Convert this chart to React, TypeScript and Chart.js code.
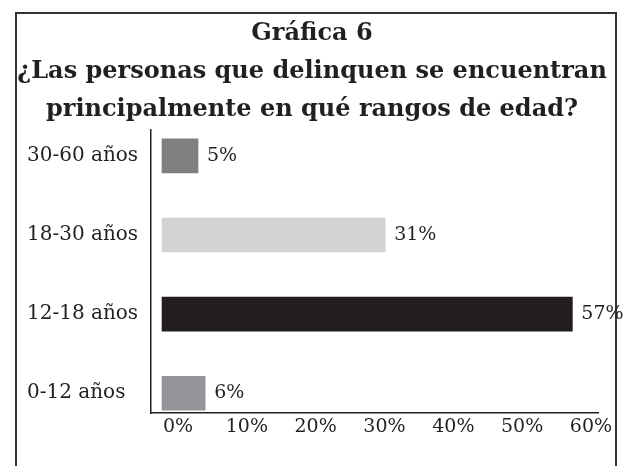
import React, { useEffect, useRef } from "react";
import { Chart, registerables } from "chart.js";

Chart.register(...registerables);

const categories = ["30-60 años", "18-30 años", "12-18 años", "0-12 años"];
const values = [5, 31, 57, 6];
const barColors = ["#808083", "#d1d2d4", "#231f20", "#939598"];
const tickValues = [0, 10, 20, 30, 40, 50, 60];
const titleLines = [
  "Gráfica 6",
  "¿Las personas que delinquen se encuentran",
  "principalmente en qué rangos de edad?",
];

const FONT = "'DejaVu Serif', serif";
const INK = "#231f20";

const valueLabels = {
  id: "valueLabels",
  afterDatasetsDraw(chart: any) {
    const ctx = chart.ctx;
    const meta = chart.getDatasetMeta(0);
    ctx.save();
    ctx.font = `19px ${FONT}`;
    ctx.fillStyle = INK;
    ctx.textAlign = "left";
    ctx.textBaseline = "middle";
    meta.data.forEach((bar: any, i: number) => {
      ctx.fillText(`${values[i]}%`, bar.x + 9, bar.y);
    });
    ctx.restore();
  },
};

const spacer = (position: string, width: number) => ({
  type: "linear",
  position,
  weight: 5,
  display: true,
  grid: { display: false, drawTicks: false },
  border: { display: false },
  ticks: { display: false },
  afterFit: (axis: any) => {
    axis.width = width;
  },
});

export default function App() {
  const ref = useRef<HTMLCanvasElement | null>(null);

  useEffect(() => {
    if (!ref.current) return;
    const chart = new Chart(ref.current, {
      type: "bar",
      data: {
        datasets: [
          {
            data: values.map((v, i) => ({ x: v, y: i })),
            backgroundColor: barColors,
            borderWidth: 0,
            barThickness: 34,
            xAxisID: "x",
            yAxisID: "y",
          },
        ],
      },
      options: {
        indexAxis: "y",
        animation: false,
        responsive: false,
        maintainAspectRatio: false,
        layout: { padding: { left: 8, right: 8, top: 0, bottom: 23 } },
        plugins: {
          legend: { display: false },
          tooltip: { enabled: false },
          title: {
            display: true,
            text: titleLines,
            color: INK,
            font: { family: FONT, size: 24, weight: "bold", lineHeight: 1.58 },
            padding: { top: 15, bottom: 1 },
          },
        },
        scales: {
          yLeftSpace: spacer("left", 19),
          yRightSpace: spacer("right", 18),
          y: {
            type: "linear",
            reverse: true,
            offset: false,
            min: -0.33,
            max: 3.25,
            afterBuildTicks: (axis: any) => {
              axis.ticks = categories.map((_, i) => ({ value: i }));
            },
            afterFit: (axis: any) => {
              axis.width = 124;
            },
            grid: { display: false, drawTicks: false, offset: false },
            border: { display: true, color: INK, width: 1.5 },
            ticks: {
              crossAlign: "far",
              color: INK,
              font: { family: FONT, size: 20 },
              callback: (v: any) => categories[Math.round(Number(v))],
            },
          },
          x: {
            type: "linear",
            position: "bottom",
            offset: false,
            min: -1.53,
            max: 60.56,
            grid: { display: false, drawTicks: false },
            border: { display: true, color: INK, width: 1.5 },
            ticks: { display: false },
            afterFit: (axis: any) => {
              axis.height = 0;
            },
          },
          x2: {
            type: "linear",
            position: "bottom",
            offset: false,
            min: -3.92,
            max: 61.02,
            afterBuildTicks: (axis: any) => {
              axis.ticks = tickValues.map((v) => ({ value: v }));
            },
            afterFit: (axis: any) => {
              axis.height = 30;
            },
            grid: { display: false, drawTicks: false },
            border: { display: false },
            ticks: {
              color: INK,
              padding: 3,
              maxRotation: 0,
              font: { family: FONT, size: 19 },
              callback: (v: any) => `${v}%`,
            },
          },
        },
      } as any,
      plugins: [valueLabels],
    });
    return () => chart.destroy();
  }, []);

  return (
    <div style={{ position: "absolute", left: 0, top: 0, width: 624, height: 466, overflow: "hidden", background: "#fff" }}>
      <div
        style={{
          position: "absolute",
          left: 15,
          top: 12,
          width: 602,
          height: 480,
          boxSizing: "border-box",
          border: "2px solid #333",
        }}
      />
      <canvas ref={ref} width={624} height={466} style={{ position: "absolute", left: 0, top: 0 }} />
    </div>
  );
}
